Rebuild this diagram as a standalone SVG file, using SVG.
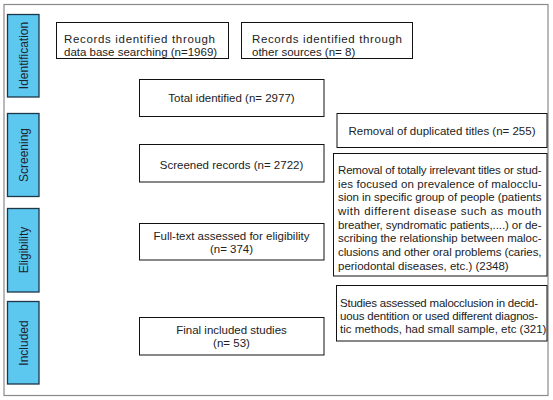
<svg xmlns="http://www.w3.org/2000/svg" width="553" height="400" viewBox="0 0 553 400">
<style>
.frame{fill:#fff;stroke:#8a8a8a;stroke-width:1.2}
.stage{fill:#5cc8f0;stroke:#1f3548;stroke-width:1.3}
.stage-t{font-family:"Liberation Sans",Arial,sans-serif;font-size:12px;fill:#1c2530;text-anchor:middle}
.box{fill:#fff;stroke:#111;stroke-width:1}
.t{font-family:"Liberation Sans",Arial,sans-serif;font-size:11.5px;fill:#222}
.c{text-anchor:middle}
</style>
<rect x="0" y="0" width="553" height="400" fill="#fff"/>
<rect class="frame" x="4" y="4.5" width="544" height="391"/>

<g id="stage-identification">
<rect class="stage" x="7.5" y="14.5" width="31.5" height="82.5"/>
<text class="stage-t" transform="translate(27.5,55.5) rotate(-90)">Identification</text>
</g>
<g id="stage-screening">
<rect class="stage" x="7.5" y="113.5" width="31.5" height="83"/>
<text class="stage-t" transform="translate(27.5,155) rotate(-90)">Screening</text>
</g>
<g id="stage-eligibility">
<rect class="stage" x="7.5" y="208.5" width="31.5" height="83.5"/>
<text class="stage-t" transform="translate(27.5,250) rotate(-90)">Eligibility</text>
</g>
<g id="stage-included">
<rect class="stage" x="7.5" y="301.5" width="31.5" height="82.5"/>
<text class="stage-t" transform="translate(27.5,343) rotate(-90)">Included</text>
</g>

<g id="records-database">
<rect class="box" x="56.5" y="22.5" width="172" height="36"/>
<text class="t" x="64" y="42.5" textLength="151" lengthAdjust="spacing">Records identified through</text>
<text class="t" x="64" y="55.5">data base searching (n=1969)</text>
</g>
<g id="records-other">
<rect class="box" x="241.5" y="22.5" width="171" height="36"/>
<text class="t" x="252" y="42.5" textLength="150" lengthAdjust="spacing">Records identified through</text>
<text class="t" x="252" y="55.5">other sources (n= 8)</text>
</g>
<g id="total-identified">
<rect class="box" x="139.5" y="79.5" width="184.5" height="37"/>
<text class="t c" x="231.5" y="102">Total identified (n= 2977)</text>
</g>
<g id="removal-duplicates">
<rect class="box" x="337" y="113.5" width="210" height="34"/>
<text class="t c" x="442" y="134.5">Removal of duplicated titles (n= 255)</text>
</g>
<g id="screened-records">
<rect class="box" x="139.5" y="144.5" width="184.5" height="37.5"/>
<text class="t c" x="231.5" y="169">Screened records (n= 2722)</text>
</g>
<g id="removal-irrelevant">
<rect class="box" x="333.5" y="153.5" width="213.5" height="122.5"/>
<text class="t" x="338" y="174" textLength="203.5" lengthAdjust="spacing">Removal of totally irrelevant titles or stud-</text>
<text class="t" x="338" y="187.7" textLength="203.5" lengthAdjust="spacing">ies focused on prevalence of malocclu-</text>
<text class="t" x="338" y="201.3" textLength="203.5" lengthAdjust="spacing">sion in specific group of people (patients</text>
<text class="t" x="338" y="215" textLength="203.5" lengthAdjust="spacing">with different disease such as mouth</text>
<text class="t" x="338" y="228.6" textLength="203.5" lengthAdjust="spacing">breather, syndromatic patients,....) or de-</text>
<text class="t" x="338" y="242.3" textLength="203.5" lengthAdjust="spacing">scribing the relationship between maloc-</text>
<text class="t" x="338" y="255.9" textLength="203.5" lengthAdjust="spacing">clusions and other oral problems (caries,</text>
<text class="t" x="338" y="269.6">periodontal diseases, etc.) (2348)</text>
</g>
<g id="full-text">
<rect class="box" x="139.5" y="223.5" width="184.5" height="36.5"/>
<text class="t c" x="231.5" y="239.5">Full-text assessed for eligibility</text>
<text class="t c" x="231.5" y="252.5">(n= 374)</text>
</g>
<g id="excluded-full-text">
<rect class="box" x="336.5" y="285.5" width="210.5" height="55.5"/>
<text class="t" x="340" y="307" textLength="198" lengthAdjust="spacing">Studies assessed malocclusion in decid-</text>
<text class="t" x="340" y="320" textLength="198" lengthAdjust="spacing">uous dentition or used different diagnos-</text>
<text class="t" x="340" y="333">tic methods, had small sample, etc (321)</text>
</g>
<g id="final-included">
<rect class="box" x="139.5" y="317.5" width="184.5" height="37.5"/>
<text class="t c" x="231.5" y="333.5">Final included studies</text>
<text class="t c" x="231.5" y="347">(n= 53)</text>
</g>
<g id="connectors"></g>
</svg>
